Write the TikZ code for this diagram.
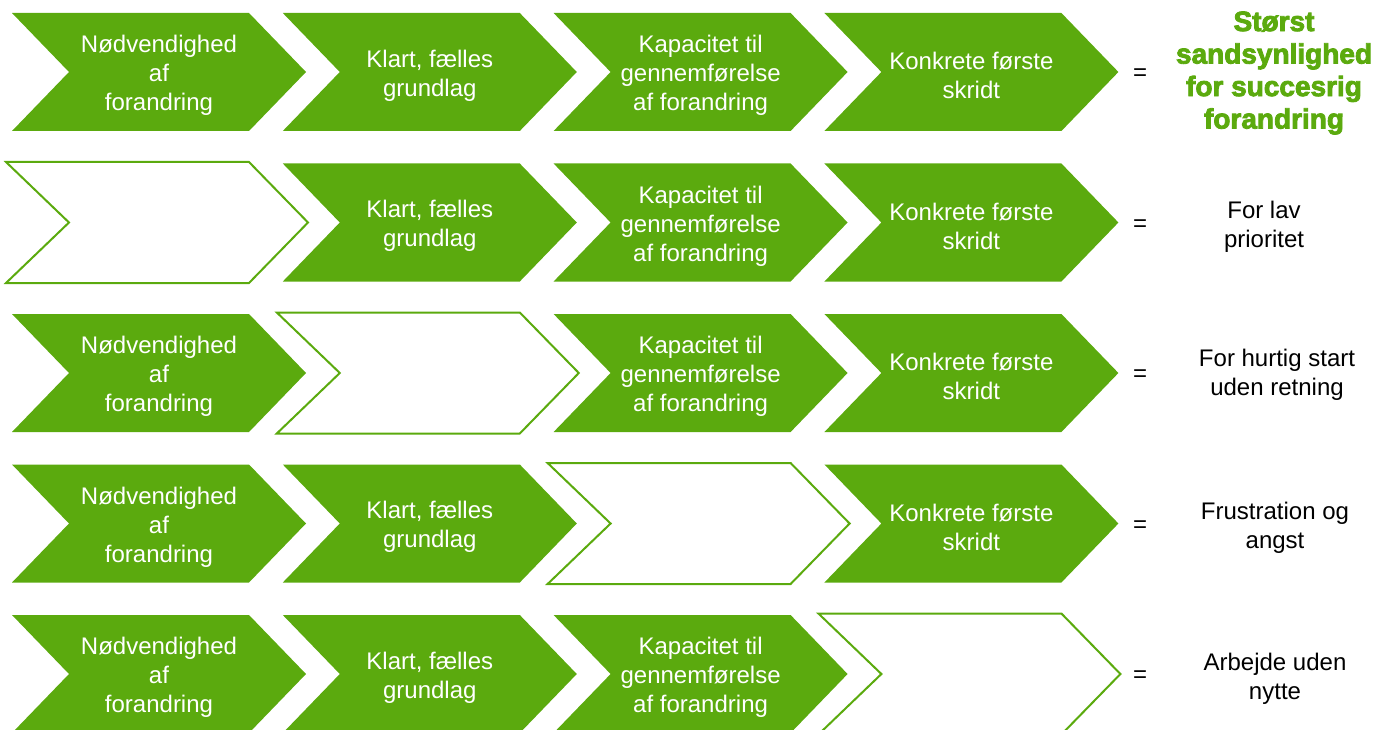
\documentclass[tikz,border=0pt]{standalone}
\usepackage{fontspec}
\setmainfont{Liberation Sans}
\newfontfamily\titlefont[FakeBold=3]{Liberation Sans}
\definecolor{chevgreen}{RGB}{91,170,14}

\tikzset{
	chevfill/.style={fill=chevgreen},
	chevline/.style={draw=chevgreen, line width=2pt, fill=white, line join=miter},
	chevtext/.style={text=white, align=center, font=\fontsize{24}{29}\selectfont},
	restext/.style={align=center, font=\fontsize{24}{29}\selectfont},
	eqsign/.style={font=\fontsize{24}{29}\selectfont},
}

\begin{document}
\begin{tikzpicture}[x=1pt, y=-1pt]
	\useasboundingbox (0,0) rectangle (1381,730);

	% Rows of chevrons, row r has step r-1 left empty
	\foreach \r in {0,...,4}{
		\pgfmathsetmacro\ry{13+150.5*\r}
		\foreach \c/\txt in {0/{Nødvendighed\\af\\forandring},
			1/{Klart, fælles\\grundlag},
			2/{Kapacitet til\\gennemførelse\\af forandring},
			3/{Konkrete første\\skridt}}{
			\pgfmathsetmacro\cx{12+270.8*\c}
			\pgfmathtruncatemacro\gap{\r-1}
			\ifnum\c=\gap
				% empty step
				\draw[chevline] (\cx-6,\ry-1.5) -- (\cx+237,\ry-1.5) -- (\cx+296,\ry+59)
					-- (\cx+237,\ry+119.5) -- (\cx-6,\ry+119.5) -- (\cx+57,\ry+59) -- cycle;
			\else
				\fill[chevfill] (\cx,\ry) -- (\cx+237,\ry) -- (\cx+294,\ry+59)
					-- (\cx+237,\ry+118) -- (\cx,\ry+118) -- (\cx+57,\ry+59) -- cycle;
				\node[chevtext] (n\r\c) at (\cx+147,\ry+62.5) {\txt};
			\fi
		}
		% Equals signs
		\node[eqsign] (eq\r) at (1140,\ry+62) {=};
	}

	% Outcomes
	\node[text=chevgreen, align=center, font=\titlefont\bfseries\fontsize{28}{32.5}\selectfont] (res0) at (1274,73) {Størst\\sandsynlighed\\for succesrig\\forandring};
	\node[restext] (res1) at (1264,227) {For lav\\prioritet};
	\node[restext] (res2) at (1277,375) {For hurtig start\\uden retning};
	\node[restext] (res3) at (1275,528) {Frustration og\\angst};
	\node[restext] (res4) at (1275,679) {Arbejde uden\\nytte};

\end{tikzpicture}
\end{document}
